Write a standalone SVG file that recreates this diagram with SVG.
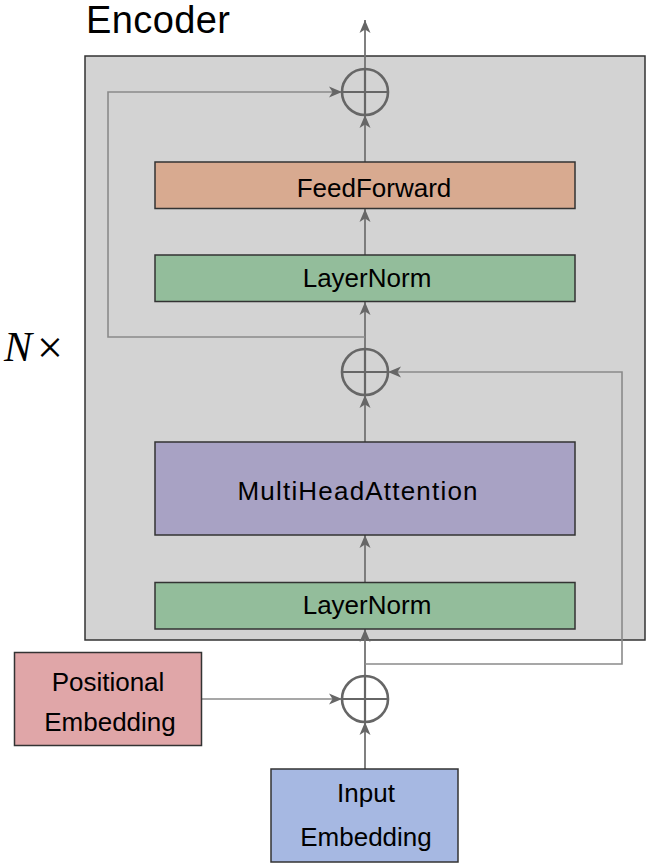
<svg xmlns="http://www.w3.org/2000/svg" width="646" height="864" viewBox="0 0 646 864">
<style>
.box{stroke:#333333;stroke-width:1.5}
.lbl{font-family:"Liberation Sans",Arial,sans-serif;font-size:26px;fill:#000;text-anchor:middle}
.ln{fill:none;stroke:#737373;stroke-width:1.8}
.sk{fill:none;stroke:#8a8a8a;stroke-width:1.6}
.circ{fill:none;stroke:#666666;stroke-width:2.6}
.cross{stroke:#666666;stroke-width:2.2}
</style>
<defs>
<marker id="ah" markerUnits="userSpaceOnUse" markerWidth="14" markerHeight="12" viewBox="0 0 14 12" refX="13" refY="6" orient="auto">
<path d="M0,0.5 L13,6 L0,11.5 L3.5,6 Z" fill="#666666"/>
</marker>
</defs>
<rect width="646" height="864" fill="#ffffff"/>
<g id="encoder">
<rect x="85" y="56" width="560" height="584" fill="#d3d3d3" stroke="#333333" stroke-width="1.5"/>
<text x="86" y="33" font-family="Liberation Sans,Arial,sans-serif" font-size="38" textLength="144" fill="#000">Encoder</text>
</g>
<g id="nx">
<text x="4" y="361" font-family="Liberation Serif,serif" font-size="42" font-style="italic" fill="#000">N</text>
<text x="37" y="363" font-family="Liberation Serif,serif" font-size="46" fill="#000">×</text>
</g>
<g id="connectors">
<line class="ln" x1="365" y1="69" x2="365" y2="20" marker-end="url(#ah)"/>
<line class="ln" x1="365" y1="162" x2="365" y2="115" marker-end="url(#ah)"/>
<line class="ln" x1="365" y1="255" x2="365" y2="209" marker-end="url(#ah)"/>
<line class="ln" x1="365" y1="349" x2="365" y2="302" marker-end="url(#ah)"/>
<line class="ln" x1="365" y1="442" x2="365" y2="395" marker-end="url(#ah)"/>
<line class="ln" x1="365" y1="582" x2="365" y2="535" marker-end="url(#ah)"/>
<line class="ln" x1="365" y1="676" x2="365" y2="629" marker-end="url(#ah)"/>
<line class="ln" x1="365" y1="769" x2="365" y2="722" marker-end="url(#ah)"/>
<line class="sk" x1="201" y1="699" x2="342" y2="699" marker-end="url(#ah)"/>
<polyline class="sk" points="365,337 108,337 108,92 342,92" marker-end="url(#ah)"/>
<polyline class="sk" points="365,664 622,664 622,372 388,372" marker-end="url(#ah)"/>
</g>
<g id="add-top">
<circle class="circ" cx="365" cy="92" r="23"/>
<line class="cross" x1="342" y1="92" x2="388" y2="92"/>
<line class="cross" x1="365" y1="69" x2="365" y2="115"/>
</g>
<g id="add-mid">
<circle class="circ" cx="365" cy="372" r="23"/>
<line class="cross" x1="342" y1="372" x2="388" y2="372"/>
<line class="cross" x1="365" y1="349" x2="365" y2="395"/>
</g>
<g id="add-bottom">
<circle class="circ" cx="365" cy="699" r="23"/>
<line class="cross" x1="342" y1="699" x2="388" y2="699"/>
<line class="cross" x1="365" y1="676" x2="365" y2="722"/>
</g>
<g id="feedforward">
<rect class="box" x="155" y="162" width="420" height="46.5" fill="#d8aa90"/>
<text class="lbl" x="374" y="196.5">FeedForward</text>
</g>
<g id="layernorm-top">
<rect class="box" x="155" y="255" width="420" height="46.5" fill="#93bd9b"/>
<text class="lbl" x="367" y="286.5">LayerNorm</text>
</g>
<g id="multiheadattention">
<rect class="box" x="155" y="442" width="420" height="93" fill="#a8a2c4"/>
<text class="lbl" x="357.5" y="500" textLength="240">MultiHeadAttention</text>
</g>
<g id="layernorm-bottom">
<rect class="box" x="155" y="582.5" width="420" height="46.5" fill="#93bd9b"/>
<text class="lbl" x="367" y="614">LayerNorm</text>
</g>
<g id="positional-embedding">
<rect class="box" x="14.5" y="652.5" width="187" height="93" fill="#e0a6a8"/>
<text class="lbl" x="108" y="691">Positional</text>
<text class="lbl" x="110" y="731">Embedding</text>
</g>
<g id="input-embedding">
<rect class="box" x="271" y="769" width="187" height="93" fill="#a6b8e2"/>
<text class="lbl" x="366" y="802">Input</text>
<text class="lbl" x="366" y="846">Embedding</text>
</g>
</svg>
